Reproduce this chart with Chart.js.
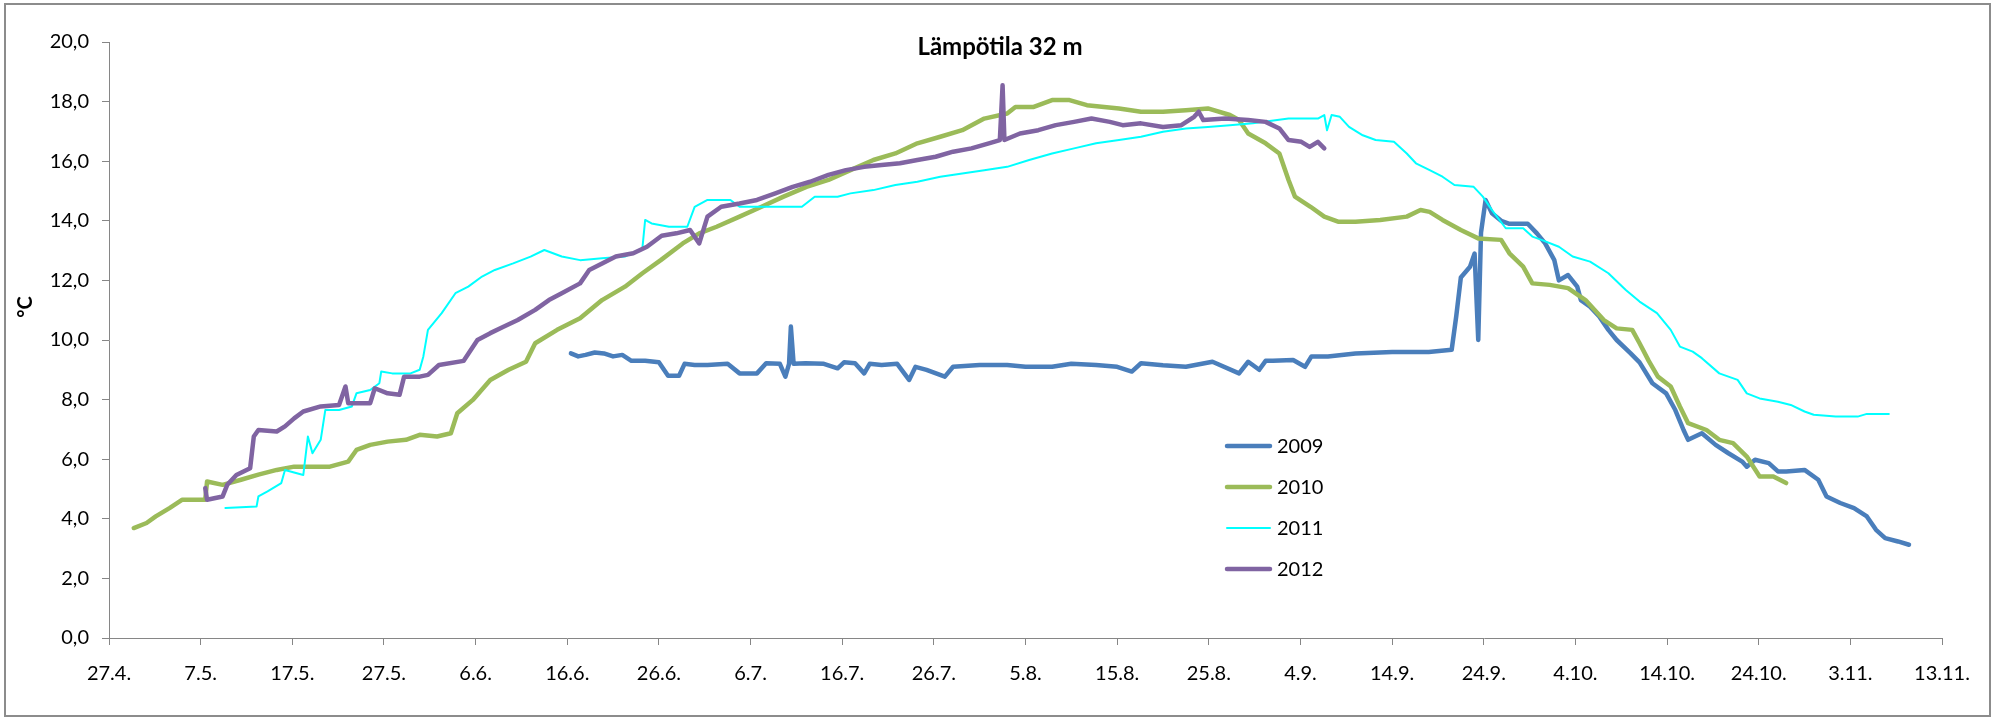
<!DOCTYPE html>
<html>
<head>
<meta charset="utf-8">
<script src="https://cdn.jsdelivr.net/npm/chart.js@4.4.1/dist/chart.umd.min.js"></script>
<style>
  html, body { margin: 0; padding: 0; background: #ffffff; }
  #wrap { position: relative; width: 1993px; height: 718px; }
</style>
</head>
<body>
<div id="wrap"><canvas id="tempChart" width="1993" height="718"></canvas></div>
<script>
// x = days after 27.4., y = temperature (°C)
const dateTicks = ["27.4.", "7.5.", "17.5.", "27.5.", "6.6.", "16.6.", "26.6.", "6.7.", "16.7.", "26.7.",
  "5.8.", "15.8.", "25.8.", "4.9.", "14.9.", "24.9.", "4.10.", "14.10.", "24.10.", "3.11.", "13.11."];

const years = ["2009", "2010", "2011", "2012"];
const yearColors = ["#4a7ebb", "#9bbb59", "#00ffff", "#8064a2"];
const yearWidths = [4.5, 4.5, 2, 4.5];

const days2009 = [50.4, 51.2, 52, 53, 54, 55, 56, 57, 58.5, 60, 61, 62.2, 62.8, 63.9, 65.3, 67.5, 68.8, 70.7, 71.7,
  73.2, 73.8, 74.2, 74.4, 74.7, 76, 78, 79.5, 80.2, 81.4, 82.4, 83, 84.3, 86, 87.3, 88, 89.2, 91.2, 92.1, 95, 98,
  100, 102.9, 105, 107.7, 110, 111.6, 112.6, 115, 117.5, 120.4, 123.3, 124.3, 125.5, 126.2, 127, 129.2, 130.5,
  131.2, 133, 136, 140, 144, 146.5, 147, 147.5, 148.5, 149, 149.4, 149.7, 150.2, 150.9, 151.9, 152.8, 154.8,
  155.8, 156.7, 157.7, 158.2, 159.2, 160.2, 160.6, 161.6, 162.6, 163.6, 164.5, 166, 167, 168.4, 169.9, 170.9,
  171.8, 172.3, 173.8, 175.3, 176.7, 178.2, 178.7, 179.6, 181.1, 182.1, 183, 185, 186.5, 187.4, 188.9, 190.4,
  191.8, 192.8, 193.8, 195.2, 196.4];
const temp2009 = [9.55, 9.45, 9.5, 9.58, 9.55, 9.45, 9.5, 9.3, 9.3, 9.25, 8.8, 8.8, 9.2, 9.16, 9.16, 9.2, 8.88, 8.88,
  9.22, 9.2, 8.77, 9.2, 10.45, 9.2, 9.22, 9.2, 9.05, 9.25, 9.22, 8.88, 9.2, 9.16, 9.2, 8.66, 9.1, 9.0, 8.77, 9.1,
  9.16, 9.16, 9.1, 9.1, 9.2, 9.16, 9.1, 8.94, 9.22, 9.15, 9.1, 9.27, 8.88, 9.27, 9.0, 9.3, 9.3, 9.33, 9.1, 9.45,
  9.45, 9.55, 9.6, 9.6, 9.67, 10.8, 12.1, 12.46, 12.9, 10.0, 13.6, 14.7, 14.25, 14.0, 13.9, 13.9, 13.58, 13.24,
  12.68, 12.0, 12.18, 11.79, 11.34, 11.12, 10.79, 10.34, 10.0, 9.56, 9.25, 8.55, 8.21, 7.65, 6.98, 6.65, 6.87,
  6.48, 6.2, 5.92, 5.75, 5.98, 5.87, 5.59, 5.59, 5.64, 5.31, 4.75, 4.53, 4.36, 4.08, 3.63, 3.35, 3.24, 3.13];

const days2010 = [2.7, 4.1, 5.1, 6.6, 8.0, 9.5, 10.5, 10.7, 12.4, 14.4, 16.3, 18.3, 20.2, 22.2, 24.1, 26.1, 27.0,
  28.5, 30.4, 32.4, 33.9, 35.8, 37.3, 38.0, 39.7, 41.6, 43.6, 45.5, 46.5, 48.9, 51.4, 53.8, 56.3, 58.2, 60.2,
  62.6, 64.4, 66.3, 68.8, 71.2, 73.6, 76.1, 78.5, 80.9, 83.4, 85.8, 88.2, 90.7, 93.1, 95.5, 98.0, 98.9, 100.9,
  102.9, 104.8, 106.7, 110.2, 112.6, 115.0, 117.5, 119.9, 122.3, 123.3, 124.3, 126.2, 127.7, 128.7, 129.4,
  131.1, 132.6, 134.1, 136, 138.7, 141.6, 143.1, 144.1, 145.5, 147.5, 149.4, 151.9, 152.8, 154.3, 155.3, 157.2,
  159.2, 161.1, 163.1, 164.5, 166.2, 167.0, 168.0, 169.0, 170.4, 171.4, 172.3, 174.3, 175.7, 177.2, 178.7,
  180.1, 181.6, 183.0];
const temp2010 = [3.69, 3.86, 4.08, 4.36, 4.64, 4.64, 4.64, 5.25, 5.14, 5.31, 5.48, 5.64, 5.75, 5.75, 5.75, 5.92,
  6.31, 6.48, 6.59, 6.65, 6.82, 6.76, 6.87, 7.54, 7.99, 8.66, 9.0, 9.27, 9.89, 10.34, 10.73, 11.34, 11.79,
  12.24, 12.68, 13.24, 13.58, 13.8, 14.14, 14.47, 14.81, 15.14, 15.37, 15.7, 16.04, 16.26, 16.6, 16.82, 17.04,
  17.43, 17.6, 17.82, 17.82, 18.05, 18.05, 17.88, 17.77, 17.66, 17.66, 17.71, 17.77, 17.55, 17.38, 16.93,
  16.6, 16.26, 15.37, 14.81, 14.47, 14.14, 13.97, 13.97, 14.03, 14.14, 14.36, 14.3, 14.03, 13.69, 13.41, 13.36,
  12.91, 12.46, 11.9, 11.85, 11.74, 11.34, 10.67, 10.39, 10.34, 9.89, 9.3, 8.77, 8.44, 7.77, 7.21, 6.98, 6.65,
  6.54, 6.09, 5.42, 5.42, 5.2];

const days2011 = [12.7, 16.1, 16.3, 17.3, 18.8, 19.2, 21.2, 21.7, 22.2, 23.1, 23.6, 25.1, 26.5, 27.0, 28.5, 29.5,
  29.7, 30.9, 32.9, 33.9, 34.3, 34.8, 36.3, 37.8, 39.2, 40.7, 42.1, 44.1, 46.0, 47.5, 49.4, 51.4, 53.8, 56.3,
  58.2, 58.5, 59.2, 61.1, 63.1, 63.9, 65.3, 67.8, 68.8, 75.6, 77.0, 79.5, 80.9, 83.4, 85.8, 88.2, 90.7, 93.1,
  95.5, 98.0, 100.4, 102.9, 105.3, 107.7, 110.2, 112.6, 115.0, 117.5, 119.9, 122.3, 124.8, 128.7, 131.9,
  132.6, 132.9, 133.4, 134.3, 135.3, 136.8, 138.2, 140.2, 141.6, 142.6, 144.1, 145.5, 146.8, 148.9, 149.9,
  150.9, 152.4, 154.3, 155.3, 156.3, 158.2, 159.7, 161.6, 163.6, 165.5, 167.0, 168.9, 170.4, 171.4, 172.8,
  173.8, 175.7, 177.7, 178.7, 180.1, 182.1, 183.5, 185.0, 186.0, 188.4, 190.8, 191.8, 194.2];
const temp2011 = [4.36, 4.41, 4.75, 4.92, 5.2, 5.64, 5.47, 6.76, 6.2, 6.65, 7.65, 7.65, 7.77, 8.21, 8.32, 8.55,
  8.94, 8.88, 8.88, 9.0, 9.45, 10.34, 10.9, 11.57, 11.79, 12.13, 12.35, 12.57, 12.8, 13.02, 12.8, 12.68, 12.74,
  12.8, 13.08, 14.03, 13.91, 13.8, 13.8, 14.47, 14.7, 14.7, 14.47, 14.47, 14.81, 14.81, 14.92, 15.03, 15.2,
  15.31, 15.48, 15.59, 15.7, 15.81, 16.04, 16.26, 16.43, 16.6, 16.71, 16.82, 16.99, 17.1, 17.15, 17.21, 17.27,
  17.43, 17.43, 17.55, 17.04, 17.55, 17.49, 17.15, 16.87, 16.71, 16.65, 16.26, 15.93, 15.7, 15.48, 15.2,
  15.14, 14.81, 14.36, 13.75, 13.75, 13.47, 13.36, 13.13, 12.8, 12.63, 12.24, 11.68, 11.29, 10.9, 10.34, 9.78,
  9.61, 9.39, 8.88, 8.66, 8.21, 8.04, 7.93, 7.82, 7.6, 7.49, 7.43, 7.43, 7.52, 7.52];

const days2012 = [10.5, 10.7, 12.4, 12.9, 13.9, 15.4, 15.8, 16.3, 18.3, 19.2, 20.2, 21.2, 23.1, 25.1, 25.8, 26.1,
  28.5, 29.0, 30.4, 31.7, 32.2, 33.9, 34.8, 36.0, 38.7, 40.2, 41.6, 43.1, 44.6, 46.5, 48.0, 49.4, 51.4, 52.4,
  53.8, 55.3, 57.2, 58.7, 60.3, 61.9, 63.4, 64.4, 65.3, 66.8, 68.8, 70.7, 72.7, 74.6, 76.5, 78.5, 80.4, 82.4,
  84.3, 86.3, 88.2, 90.2, 92.1, 94.1, 96.0, 97.2, 97.5, 97.7, 99.4, 101.4, 103.3, 105.3, 107.2, 109.2, 110.6,
  112.6, 115.0, 117.0, 118.4, 118.9, 119.4, 121.8, 124.3, 126.2, 127.7, 128.7, 130.1, 131.0, 131.9, 132.6];
const temp2012 = [5.03, 4.64, 4.75, 5.14, 5.47, 5.7, 6.76, 6.98, 6.93, 7.1, 7.37, 7.6, 7.77, 7.82, 8.44, 7.88,
  7.88, 8.38, 8.21, 8.16, 8.77, 8.77, 8.83, 9.16, 9.3, 10.0, 10.23, 10.45, 10.67, 11.01, 11.34, 11.57, 11.9,
  12.35, 12.57, 12.8, 12.91, 13.13, 13.5, 13.58, 13.69, 13.24, 14.14, 14.47, 14.58, 14.7, 14.92, 15.14, 15.31,
  15.54, 15.7, 15.81, 15.87, 15.93, 16.04, 16.15, 16.32, 16.43, 16.6, 16.71, 18.55, 16.71, 16.93, 17.04, 17.21,
  17.32, 17.43, 17.32, 17.21, 17.27, 17.15, 17.21, 17.49, 17.66, 17.38, 17.43, 17.38, 17.32, 17.1, 16.71, 16.65,
  16.48, 16.65, 16.43];

const seriesDays = [days2009, days2010, days2011, days2012];
const seriesTemps = [temp2009, temp2010, temp2011, temp2012];

const axisColor = "#868686";
const fontFamily = "Lato, 'Open Sans', sans-serif";

const framePlugin = {
  id: "framePlugin",
  beforeDraw(chart) {
    const { ctx } = chart;
    ctx.save();
    ctx.fillStyle = "#ffffff";
    ctx.fillRect(0, 0, chart.width, chart.height);
    ctx.strokeStyle = "#8c8c8c";
    ctx.lineWidth = 2;
    ctx.strokeRect(5, 4, 1985, 712);
    ctx.restore();
  },
  afterDraw(chart) {
    const { ctx } = chart;
    ctx.save();
    ctx.fillStyle = "#000000";
    ctx.textAlign = "center";
    ctx.textBaseline = "middle";
    ctx.font = `700 24px ${fontFamily}`;
    ctx.fillText("Lämpötila 32 m", 1000, 47);

    ctx.translate(26, 307);
    ctx.rotate(-Math.PI / 2);
    ctx.font = `700 20px ${fontFamily}`;
    ctx.fillText("°C", 0, 0);
    ctx.restore();

    // legend
    ctx.save();
    ctx.font = `400 20px ${fontFamily}`;
    ctx.textAlign = "left";
    ctx.textBaseline = "middle";
    chart.data.datasets.forEach((dataset, index) => {
      const y = 446 + index * 41;
      ctx.strokeStyle = dataset.borderColor;
      ctx.lineWidth = dataset.borderWidth;
      ctx.lineCap = "round";
      ctx.beginPath();
      ctx.moveTo(1227, y);
      ctx.lineTo(1270, y);
      ctx.stroke();
      ctx.fillStyle = "#000000";
      ctx.fillText(dataset.label, 1277, y + 1);
    });
    ctx.restore();
  }
};

function buildDatasets() {
  return years.map((year, index) => ({
    label: year,
    data: seriesDays[index].map((day, i) => ({ x: day, y: seriesTemps[index][i] })),
    borderColor: yearColors[index],
    backgroundColor: yearColors[index],
    borderWidth: yearWidths[index],
    pointRadius: 0,
    tension: 0,
    borderJoinStyle: "round",
    borderCapStyle: "round",
    order: years.length - 1 - index
  }));
}

new Chart(document.getElementById("tempChart"), {
  type: "line",
  data: { datasets: buildDatasets() },
  options: {
    responsive: false,
    animation: false,
    layout: { padding: { left: 0, right: 51, top: 42, bottom: 0 } },
    plugins: {
      legend: { display: false },
      title: { display: false },
      tooltip: { enabled: false }
    },
    scales: {
      x: {
        type: "linear",
        min: 0,
        max: 200,
        afterFit(scale) { scale.height = 80; },
        border: { display: true, color: axisColor, width: 1 },
        grid: { drawOnChartArea: false, drawTicks: true, tickLength: 7, color: axisColor },
        ticks: {
          stepSize: 10,
          autoSkip: false,
          maxRotation: 0,
          padding: 17,
          color: "#000000",
          font: { family: fontFamily, size: 20 },
          callback: (value) => dateTicks[Math.round(value / 10)]
        }
      },
      y: {
        min: 0,
        max: 20,
        afterFit(scale) { scale.width = 109; },
        border: { display: true, color: axisColor, width: 1 },
        grid: { drawOnChartArea: false, drawTicks: true, tickLength: 7, color: axisColor },
        ticks: {
          stepSize: 2,
          padding: 13,
          color: "#000000",
          font: { family: fontFamily, size: 20 },
          callback: (value) => value.toFixed(1).replace(".", ",")
        }
      }
    }
  },
  plugins: [framePlugin]
});
</script>
</body>
</html>
